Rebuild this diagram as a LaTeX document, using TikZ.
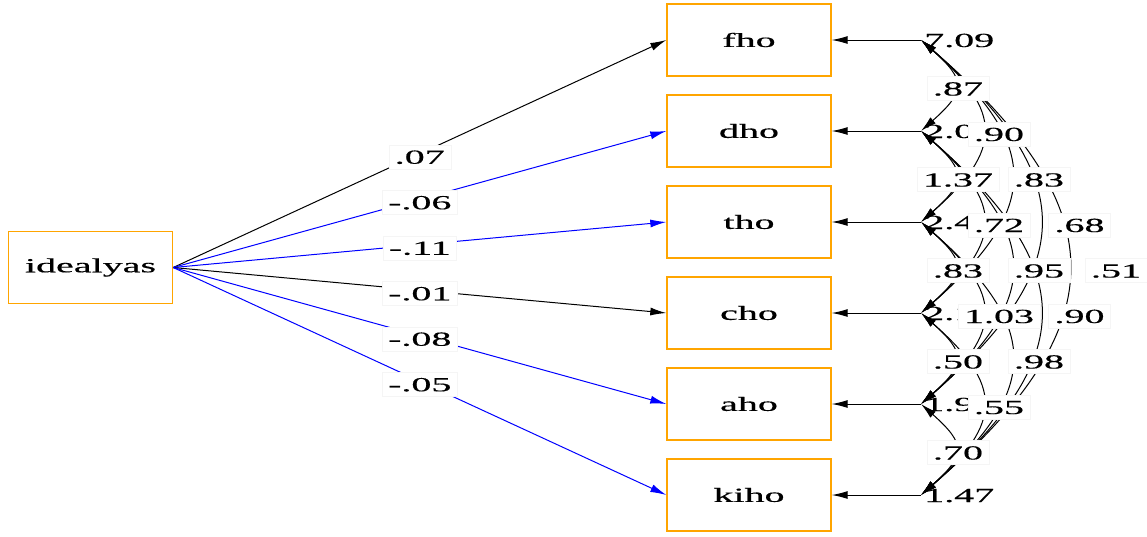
\documentclass[tikz,border=0pt]{standalone}
\usepackage{fontspec}
\setmainfont{Liberation Serif}[FakeBold=0.4]
\usepackage{graphicx}
\usetikzlibrary{arrows.meta}
\definecolor{boxorange}{RGB}{255,165,0}
\definecolor{pathblue}{RGB}{0,0,255}
\newcommand{\wx}[1]{\scalebox{2.0}[1]{#1}}
\newcommand{\wn}[1]{\scalebox{2.0}[1]{#1}}
\begin{document}
\begin{tikzpicture}[x=1pt,y=-1pt,
  font=\fontsize{20}{23}\selectfont,
  var/.style={draw=boxorange, line width=1.4pt, minimum width=164pt, minimum height=72pt, inner sep=0pt},
  reg/.style={line width=1pt, -{Latex[length=16pt,width=8pt]}},
  cov/.style={line width=1pt, {Latex[length=16pt,width=8pt]}-{Latex[length=16pt,width=8pt]}},
  elab/.style={fill=white, draw=black!4, line width=0.4pt, inner xsep=6pt, inner ysep=5pt, text height=14pt, text depth=0pt, yshift=-3pt},
  rlab/.style={anchor=west, inner xsep=3pt, inner ysep=0pt, text height=14pt, text depth=0pt}]
\useasboundingbox (0,0) rectangle (1147,536);

% variables
\node[var] (ideal) at (90.5,267.5) {\wn{idealyas}};
\node[var] (fho)  at (749,40)  {\wn{fho}};
\node[var] (dho)  at (749,131) {\wn{dho}};
\node[var] (tho)  at (749,222) {\wn{tho}};
\node[var] (cho)  at (749,313) {\wn{cho}};
\node[var] (aho)  at (749,404) {\wn{aho}};
\node[var] (kiho) at (749,495) {\wn{kiho}};

% regressions
\draw[reg] (ideal.east) -- (fho.west) node[elab, pos=0.5] {\wx{.07}};
\draw[reg, pathblue] (ideal.east) -- (dho.west) node[elab, pos=0.5, text=black] {\wx{-.06}};
\draw[reg, pathblue] (ideal.east) -- (tho.west) node[elab, pos=0.5, text=black] {\wx{-.11}};
\draw[reg] (ideal.east) -- (cho.west) node[elab, pos=0.5] {\wx{-.01}};
\draw[reg, pathblue] (ideal.east) -- (aho.west) node[elab, pos=0.5, text=black] {\wx{-.08}};
\draw[reg, pathblue] (ideal.east) -- (kiho.west) node[elab, pos=0.5, text=black] {\wx{-.05}};

% residual points
\coordinate (rf) at (921,40);
\coordinate (rd) at (921,131);
\coordinate (rt) at (921,222);
\coordinate (rc) at (921,313);
\coordinate (ra) at (921,404);
\coordinate (rk) at (921,495);

\draw[reg] (rf) -- (fho.east);
\draw[reg] (rd) -- (dho.east);
\draw[reg] (rt) -- (tho.east);
\draw[reg] (rc) -- (cho.east);
\draw[reg] (ra) -- (aho.east);
\draw[reg] (rk) -- (kiho.east);

\node[rlab] (vf) at (rf) {\wx{7.09}};
\node[rlab] (vd) at (rd) {\wx{2.06}};
\node[rlab] (vt) at (rt) {\wx{2.44}};
\node[rlab] (vc) at (rc) {\wx{2.12}};
\node[rlab] (va) at (ra) {\wx{1.95}};
\node[rlab] (vk) at (rk) {\wx{1.47}};

% covariances
\draw[cov] (rf) .. controls +(45,40) and +(45,-40) .. (rd);
\draw[cov] (rf) .. controls +(82,72) and +(82,-72) .. (rt);
\draw[cov] (rf) .. controls +(120,105) and +(120,-105) .. (rc);
\draw[cov] (rf) .. controls +(158,138) and +(158,-138) .. (ra);
\draw[cov] (rf) .. controls +(196,170) and +(196,-170) .. (rk);
\draw[cov] (rd) .. controls +(45,40) and +(45,-40) .. (rt);
\draw[cov] (rd) .. controls +(82,72) and +(82,-72) .. (rc);
\draw[cov] (rd) .. controls +(120,105) and +(120,-105) .. (ra);
\draw[cov] (rd) .. controls +(158,138) and +(158,-138) .. (rk);
\draw[cov] (rt) .. controls +(45,40) and +(45,-40) .. (rc);
\draw[cov] (rt) .. controls +(82,72) and +(82,-72) .. (ra);
\draw[cov] (rt) .. controls +(120,105) and +(120,-105) .. (rk);
\draw[cov] (rc) .. controls +(45,40) and +(45,-40) .. (ra);
\draw[cov] (rc) .. controls +(82,72) and +(82,-72) .. (rk);
\draw[cov] (ra) .. controls +(45,40) and +(45,-40) .. (rk);

\node[elab] (c1)  at (958,85.5)    {\wx{.87}};
\node[elab] (c2)  at (999,131)     {\wx{.90}};
\node[elab] (c3)  at (1039,176.5)  {\wx{.83}};
\node[elab] (c4)  at (1079.5,222)  {\wx{.68}};
\node[elab] (c5)  at (1116,267.5)  {\wx{.51}};
\node[elab] (c6)  at (958,176.5)   {\wx{1.37}};
\node[elab] (c7)  at (999,222)     {\wx{.72}};
\node[elab] (c8)  at (1039,267.5)  {\wx{.95}};
\node[elab] (c9)  at (1079.5,313)  {\wx{.90}};
\node[elab] (c10) at (958,267.5)   {\wx{.83}};
\node[elab] (c11) at (999,313)     {\wx{1.03}};
\node[elab] (c12) at (1039,358.5)  {\wx{.98}};
\node[elab] (c13) at (958,358.5)   {\wx{.50}};
\node[elab] (c14) at (999,404)     {\wx{.55}};
\node[elab] (c15) at (958,449.5)   {\wx{.70}};
\end{tikzpicture}
\end{document}
